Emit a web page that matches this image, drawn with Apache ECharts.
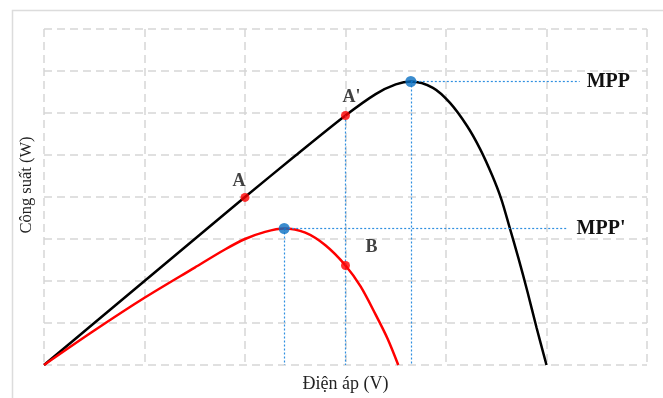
<!DOCTYPE html>
<html>
<head>
<meta charset="utf-8">
<script src="https://cdn.jsdelivr.net/npm/echarts@6/dist/echarts.min.js"></script>
<style>
    html, body { margin: 0; padding: 0; background: #fff; }
    #main { width: 663px; height: 398px; }
</style>
</head>
<body>
<div id="main"></div>
<script>
// đường P-V ở bức xạ cao (đen) và thấp (đỏ)
var blackCurve = [[0, 0], [0.5, 1.0], [1, 2.0], [1.5, 3.0], [2, 4.0], [2.5, 4.98], [3, 5.94], [3.3, 6.45],
    [3.5, 6.68], [3.65, 6.75], [3.87, 6.6], [4.04, 6.24], [4.21, 5.69], [4.34, 5.14], [4.46, 4.51],
    [4.55, 3.95], [4.63, 3.3], [4.72, 2.55], [4.81, 1.75], [4.9, 0.9], [5.0, 0]];
var redCurve = [[0, 0], [0.5, 0.82], [1.0, 1.6], [1.5, 2.32], [1.8, 2.75], [2.0, 3.0], [2.2, 3.17], [2.39, 3.25],
    [2.6, 3.15], [2.8, 2.85], [3.0, 2.37], [3.15, 1.87], [3.3, 1.2], [3.42, 0.62], [3.525, 0]];

// các điểm làm việc
var redPoints = [[2, 3.99], [3, 5.94], [3, 2.37]];
var redNames = ['A', "A'", 'B'];
var mppPoints = [[3.65, 6.75], [2.39, 3.25]];
var mppNames = ['MPP', "MPP'"];
var mppLineEnds = [5.33, 5.21];

var serif = '"Liberation Serif", "DejaVu Serif", serif';
var labelOffsets = [[-6, -16], [6, -18], [26, -18]];
var mppLabelGap = [7, 9];

var myChart = echarts.init(document.getElementById('main'));

var gridLine = {
    show: true,
    lineStyle: { color: '#d6d6d6', width: 1.5, type: [8, 5] }
};

// đường gióng màu xanh
var guideLines = [];
for (var i = 0; i < mppPoints.length; i++) {
    guideLines.push([{ coord: mppPoints[i] }, { coord: [mppPoints[i][0], 0] }]);
    guideLines.push([
        { coord: mppPoints[i] },
        { coord: [mppLineEnds[i], mppPoints[i][1]], label: { show: true, formatter: mppNames[i], distance: mppLabelGap[i] } }
    ]);
}
guideLines.push([{ coord: redPoints[1] }, { coord: [redPoints[1][0], 0] }]);

var option = {
    animation: false,
    graphic: [{
        type: 'rect',
        left: 10, top: 8,
        shape: { width: 700, height: 500 },
        style: { fill: 'none', stroke: '#dcdcdc', lineWidth: 1.5 },
        silent: true
    }],
    grid: { left: 44, right: 16, top: 29, bottom: 30 },
    xAxis: {
        type: 'value', min: 0, max: 6, interval: 1,
        name: 'Điện áp (V)', nameLocation: 'middle', nameGap: 10,
        nameTextStyle: { fontFamily: serif, fontSize: 18, color: '#222' },
        axisLine: { show: false }, axisTick: { show: false }, axisLabel: { show: false },
        splitLine: gridLine
    },
    yAxis: {
        type: 'value', min: 0, max: 8, interval: 1,
        name: 'Công suất (W)', nameLocation: 'middle', nameGap: 9,
        nameTextStyle: { fontFamily: serif, fontSize: 16.5, color: '#222', padding: [0, 0, 0, 24] },
        axisLine: { show: false }, axisTick: { show: false }, axisLabel: { show: false },
        splitLine: gridLine
    },
    series: [
        {
            type: 'line', data: [], z: 1, silent: true,
            markLine: {
                silent: true,
                symbol: ['none', 'none'],
                lineStyle: { color: '#2f8fe0', width: 1.2, type: [2, 2] },
                label: {
                    show: false, position: 'end', distance: 7,
                    fontFamily: serif, fontSize: 20, fontWeight: 'bold', color: '#111'
                },
                data: guideLines
            }
        },
        {
            type: 'line', data: blackCurve, z: 3, smooth: 0.3,
            showSymbol: false, lineStyle: { color: '#000', width: 2.5 }
        },
        {
            type: 'line', data: redCurve, z: 3, smooth: 0.3,
            showSymbol: false, lineStyle: { color: '#ff0000', width: 2.5 }
        },
        {
            type: 'scatter', z: 5, symbolSize: 9,
            itemStyle: { color: '#ff0000' },
            data: redPoints.map(function (p, k) {
                return {
                    value: p,
                    label: {
                        show: true, position: 'inside', offset: labelOffsets[k], formatter: redNames[k],
                        fontFamily: serif, fontSize: 18, fontWeight: 'bold', color: '#111'
                    }
                };
            })
        },
        {
            type: 'scatter', z: 6, symbolSize: 11,
            itemStyle: { color: '#0a6fc2' },
            data: mppPoints
        }
    ]
};

myChart.setOption(option);
</script>
</body>
</html>
